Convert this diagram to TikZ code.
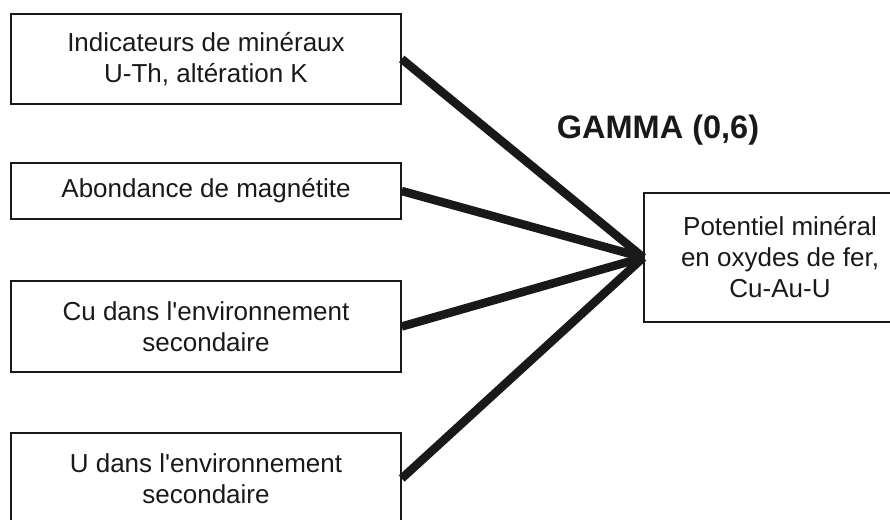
\documentclass[tikz,border=0pt]{standalone}
\usepackage{fontspec}
\setmainfont{Liberation Sans}
\usetikzlibrary{positioning}

\begin{document}
\begin{tikzpicture}[-,x=1pt,y=-1pt,line cap=butt,
	main node/.style={rectangle,draw=black!90,line width=1.4pt,inner sep=0pt,align=center,
		minimum width=390pt,text=black!90,font=\fontsize{26}{31}\selectfont},
	link/.style={line width=8.5pt,draw=black!90}]

	\useasboundingbox (0,0) rectangle (890,519);
	\clip (0,0) rectangle (890,519);

	\node[main node,minimum height=90pt] (1) at (206,59) {Indicateurs de minéraux\\U-Th, altération K};
	\node[main node,minimum height=56pt] (2) at (206,191) {Abondance de magnétite};
	\node[main node,minimum height=91pt] (3) at (206,326.5) {Cu dans l\textquotesingle environnement\\secondaire};
	\node[main node,minimum height=91pt] (4) at (206,478.5) {U dans l\textquotesingle environnement\\secondaire};
	\node[main node,minimum width=272pt,minimum height=129pt] (5) at (780,257.5) {Potentiel minéral\\en oxydes de fer,\\Cu-Au-U};
	\node[font=\fontsize{32.5}{39}\selectfont\bfseries,text=black!90] (6) at (658,130) {GAMMA (0,6)};

	\path[link]
		(1.east) edge (5.west)
		(2.east) edge (5.west)
		(3.east) edge (5.west)
		(4.east) edge (5.west);
\end{tikzpicture}
\end{document}
